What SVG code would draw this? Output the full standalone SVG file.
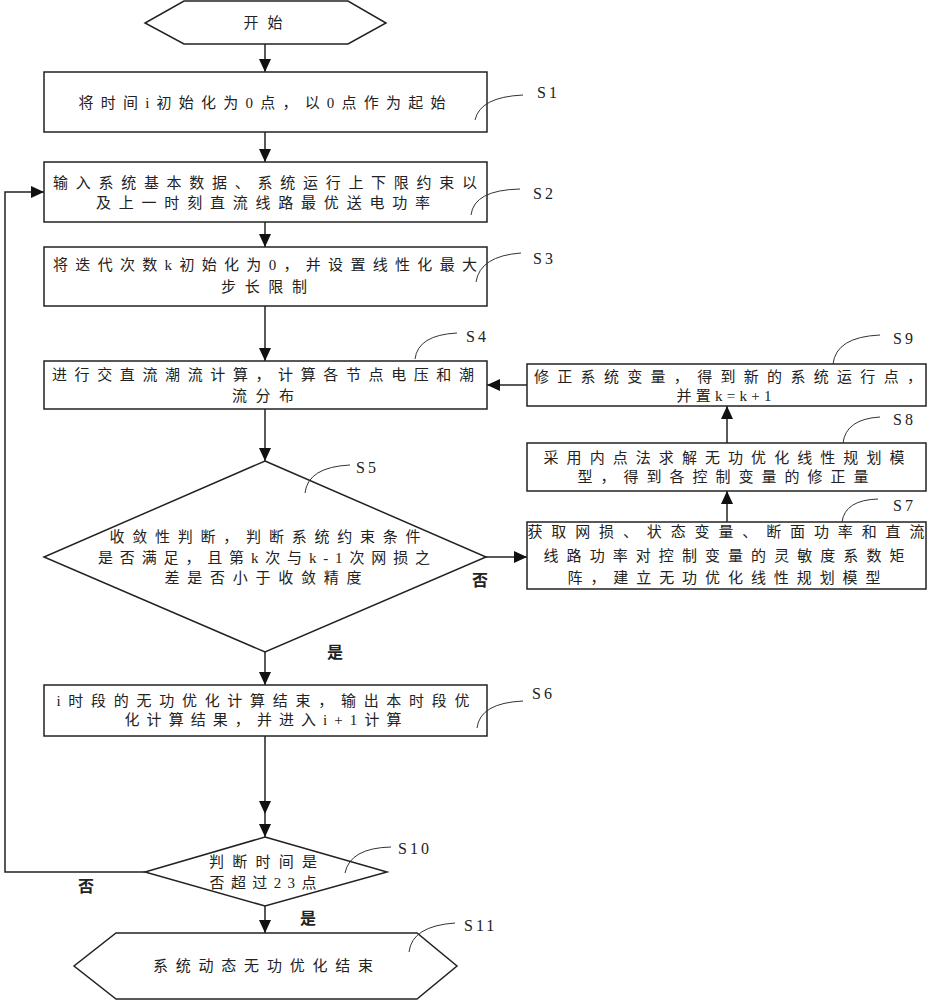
<svg xmlns="http://www.w3.org/2000/svg" width="930" height="1000" viewBox="0 0 930 1000">
<defs>
<style>
.box{fill:#fff;stroke:#222;stroke-width:1.5}
.t{font-family:"Liberation Serif","Noto Sans CJK SC",serif;font-size:15px;fill:#222;text-anchor:middle}
.lb{font-family:"Liberation Serif",serif;font-size:16px;fill:#222;letter-spacing:3px}
.yn{font-family:"Noto Sans CJK SC",sans-serif;font-size:16px;font-weight:bold;fill:#222;text-anchor:middle}
.c{fill:none;stroke:#222;stroke-width:1.5}
.cv{fill:none;stroke:#333;stroke-width:1}
</style>
<marker id="ah" markerUnits="userSpaceOnUse" markerWidth="14" markerHeight="14" viewBox="0 0 14 14" refX="13" refY="7" orient="auto">
<path d="M0,1 L13,7 L0,13 Z" fill="#111"/>
</marker>
</defs>
<rect width="930" height="1000" fill="#fff"/>

<g id="connectors">
<path class="c" d="M265,44 V72" marker-end="url(#ah)"/>
<path class="c" d="M265,132 V162" marker-end="url(#ah)"/>
<path class="c" d="M265,222 V247" marker-end="url(#ah)"/>
<path class="c" d="M265,306 V361" marker-end="url(#ah)"/>
<path class="c" d="M265,409 V461" marker-end="url(#ah)"/>
<path class="c" d="M486,557 H527" marker-end="url(#ah)"/>
<path class="c" d="M727,522 V491" marker-end="url(#ah)"/>
<path class="c" d="M727,443 V406" marker-end="url(#ah)"/>
<path class="c" d="M527,385 H487" marker-end="url(#ah)"/>
<path class="c" d="M265,652 V685" marker-end="url(#ah)"/>
<path class="c" d="M265,736 V814" marker-end="url(#ah)"/>
<path class="c" d="M265,814 V837" marker-end="url(#ah)"/>
<path class="c" d="M265,906 V933" marker-end="url(#ah)"/>
<path class="c" d="M145,872 H5 V192 H44" marker-end="url(#ah)"/>
<text class="yn" x="480" y="586">否</text>
<text class="yn" x="335" y="658">是</text>
<text class="yn" x="86" y="892">否</text>
<text class="yn" x="308" y="924">是</text>
</g>

<g id="start">
<polygon class="box" points="184,1 348,1 386,23 348,44 184,44 145,23"/>
<text class="t" x="263" y="28" textLength="39" lengthAdjust="spacing">开始</text>
</g>

<g id="S1">
<rect class="box" x="44" y="72" width="443" height="60"/>
<text class="t" x="262" y="108" textLength="367" lengthAdjust="spacing">将时间i初始化为0点，以0点作为起始</text>
<path class="cv" d="M475,120 Q480,97 523,95"/>
<text class="lb" x="537" y="98">S1</text>
</g>

<g id="S2">
<rect class="box" x="44" y="162" width="443" height="60"/>
<text class="t" x="265" y="188" textLength="424" lengthAdjust="spacing">输入系统基本数据、系统运行上下限约束以</text>
<text class="t" x="263" y="208" textLength="334" lengthAdjust="spacing">及上一时刻直流线路最优送电功率</text>
<path class="cv" d="M471,215 Q474,190 520,189"/>
<text class="lb" x="533" y="199">S2</text>
</g>

<g id="S3">
<rect class="box" x="44" y="247" width="443" height="59"/>
<text class="t" x="265" y="270" textLength="424" lengthAdjust="spacing">将迭代次数k初始化为0，并设置线性化最大</text>
<text class="t" x="264" y="292" textLength="86" lengthAdjust="spacing">步长限制</text>
<path class="cv" d="M476,282 Q480,256 521,253"/>
<text class="lb" x="533" y="264">S3</text>
</g>

<g id="S4">
<rect class="box" x="44" y="361" width="443" height="48"/>
<text class="t" x="263" y="380" textLength="422" lengthAdjust="spacing">进行交直流潮流计算，计算各节点电压和潮</text>
<text class="t" x="263" y="401" textLength="62" lengthAdjust="spacing">流分布</text>
<path class="cv" d="M415,359 Q418,335 457,333"/>
<text class="lb" x="466" y="342">S4</text>
</g>

<g id="S5">
<polygon class="box" points="265,461 486,557 265,652 44,557"/>
<text class="t" x="265" y="542" textLength="311" lengthAdjust="spacing">收敛性判断，判断系统约束条件</text>
<text class="t" x="264" y="563" textLength="332" lengthAdjust="spacing">是否满足，且第k次与k-1次网损之</text>
<text class="t" x="263" y="583" textLength="197" lengthAdjust="spacing">差是否小于收敛精度</text>
<path class="cv" d="M305,493 Q308,467 350,465"/>
<text class="lb" x="356" y="473">S5</text>
</g>

<g id="S6">
<rect class="box" x="44" y="685" width="443" height="51"/>
<text class="t" x="263" y="706" textLength="413" lengthAdjust="spacing">i时段的无功优化计算结束，输出本时段优</text>
<text class="t" x="263" y="725" textLength="277" lengthAdjust="spacing">化计算结果，并进入i+1计算</text>
<path class="cv" d="M477,728 Q480,703 523,701"/>
<text class="lb" x="532" y="699">S6</text>
</g>

<g id="S7">
<rect class="box" x="527" y="522" width="399" height="67"/>
<text class="t" x="726" y="537" textLength="397" lengthAdjust="spacing">获取网损、状态变量、断面功率和直流</text>
<text class="t" x="724" y="561" textLength="361" lengthAdjust="spacing">线路功率对控制变量的灵敏度系数矩</text>
<text class="t" x="724" y="583" textLength="313" lengthAdjust="spacing">阵，建立无功优化线性规划模型</text>
<path class="cv" d="M842,522 Q845,500 878,499"/>
<text class="lb" x="893" y="511">S7</text>
</g>

<g id="S8">
<rect class="box" x="527" y="443" width="399" height="48"/>
<text class="t" x="724" y="463" textLength="361" lengthAdjust="spacing">采用内点法求解无功优化线性规划模</text>
<text class="t" x="723" y="482" textLength="291" lengthAdjust="spacing">型，得到各控制变量的修正量</text>
<path class="cv" d="M843,443 Q846,419 880,417"/>
<text class="lb" x="893" y="425">S8</text>
</g>

<g id="S9">
<rect class="box" x="527" y="364" width="399" height="42"/>
<text class="t" x="728" y="382" textLength="388" lengthAdjust="spacing">修正系统变量，得到新的系统运行点，</text>
<text class="t" x="724" y="401" textLength="95" lengthAdjust="spacing">并置k=k+1</text>
<path class="cv" d="M833,364 Q836,337 880,335"/>
<text class="lb" x="893" y="344">S9</text>
</g>

<g id="S10">
<polygon class="box" points="265,837 387,872 265,906 145,872"/>
<text class="t" x="263" y="867" textLength="108" lengthAdjust="spacing">判断时间是</text>
<text class="t" x="263" y="888" textLength="107" lengthAdjust="spacing">否超过23点</text>
<path class="cv" d="M345,873 Q350,848 391,847"/>
<text class="lb" x="398" y="854">S10</text>
</g>

<g id="S11">
<polygon class="box" points="116,933 417,933 457,966 417,999 116,999 74,966"/>
<text class="t" x="263" y="971" textLength="220" lengthAdjust="spacing">系统动态无功优化结束</text>
<path class="cv" d="M409,952 Q412,926 455,923"/>
<text class="lb" x="464" y="931">S11</text>
</g>
</svg>
